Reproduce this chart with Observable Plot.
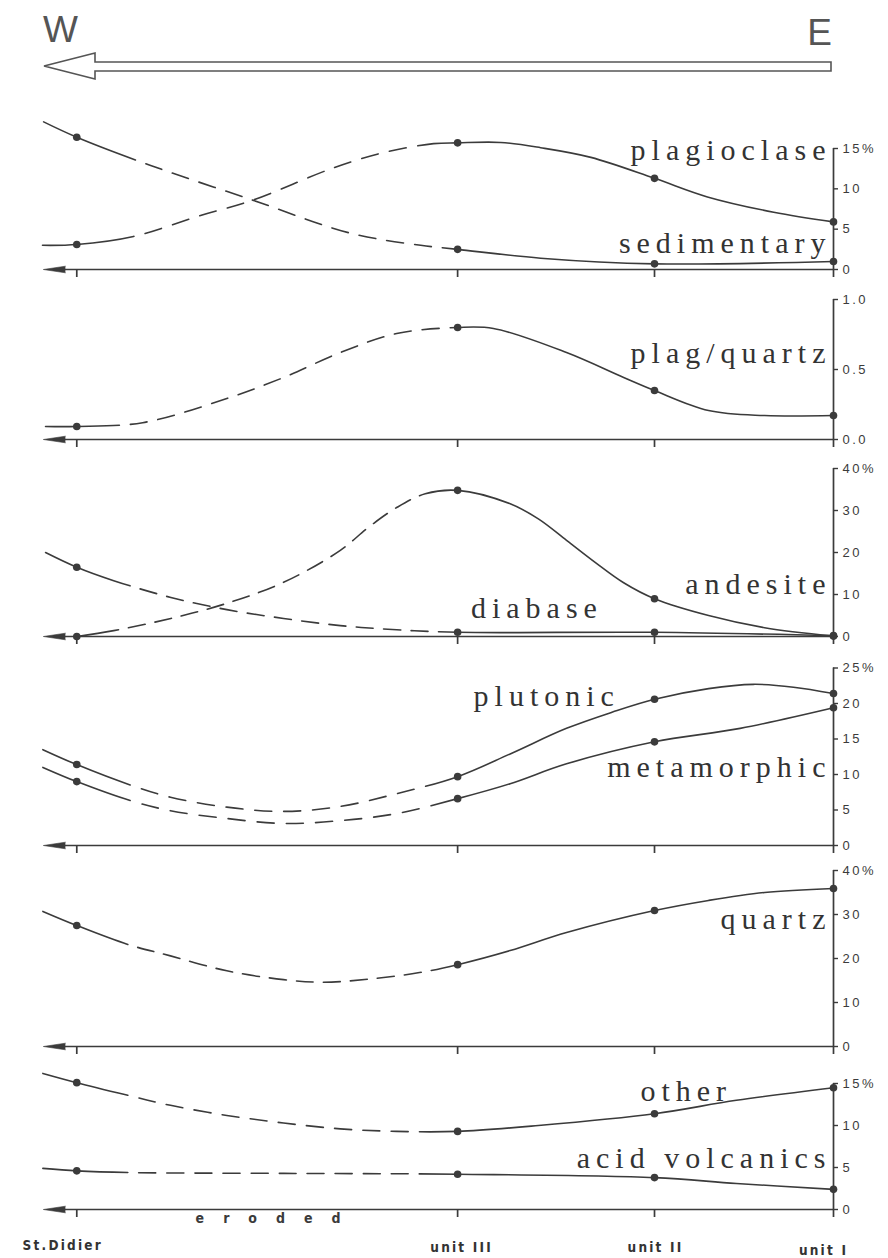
<!DOCTYPE html>
<html>
<head>
<meta charset="utf-8">
<script src="https://cdn.jsdelivr.net/npm/d3@7"></script>
<script src="https://cdn.jsdelivr.net/npm/@observablehq/plot@0.6"></script>
<style>
  html, body { margin: 0; padding: 0; background: #fff; }
  #chart { position: relative; width: 888px; height: 1258px; overflow: hidden; background: #fff; }
  #chart svg.panel { position: absolute; left: 0; }
  g[aria-description="ytick"] text { letter-spacing: 2.5px; }
  g[aria-description="serieslabel"] text { letter-spacing: 6px; }
  g[aria-description="sitelabel"] text { letter-spacing: 2.2px; font-stretch: condensed; }
  g[aria-description="eroded"] text { letter-spacing: 19px; font-stretch: condensed; }
</style>
</head>
<body>
<div id="chart"></div>
<script>
// ---------- sites along the W–E section (x = relative distance, St.Didier = 0, unit III = 100)
const sites = ["St.Didier", "unit III", "unit II", "unit I"];
const sitePos = [0, 100, 151.7, 198.7];
const xDomain = [-9, 198.7];
const arrowBase = -3;

// ---------- Panel 1 (%)
const plagioclaseAtSites = [3.1, 15.7, 11.3, 5.9];
const plagioclaseTraceX = [-9, 14.9, 32.5, 46.2, 67.4, 80.6, 93.7, 111.3, 121.8, 135, 165.6, 183];
const plagioclaseTraceY = [3.0, 4.1, 6.7, 8.6, 12.6, 14.5, 15.6, 15.75, 15.1, 13.9, 9.0, 7.1];
const sedimentaryAtSites = [16.4, 2.5, 0.7, 1.0];
const sedimentaryTraceX = [-8.7, 19.4, 46.2, 71.9, 90.3, 121.8];
const sedimentaryTraceY = [18.3, 12.9, 8.6, 4.5, 3.0, 1.4];

// ---------- Panel 2 (ratio)
const plagQuartzAtSites = [0.093, 0.80, 0.35, 0.171];
const plagQuartzTraceX = [-8.2, 17.3, 39.4, 54.3, 69.2, 84, 109.4, 128.6, 143.6, 165.9, 180.6];
const plagQuartzTraceY = [0.093, 0.12, 0.293, 0.443, 0.621, 0.757, 0.793, 0.621, 0.443, 0.207, 0.171];

// ---------- Panel 3 (%)
const andesiteAtSites = [0, 34.8, 9.0, 0.1];
const andesiteTraceX = [9.7, 24.7, 39.4, 54.3, 69.2, 76.6, 84, 91.5, 113.8, 121.2, 128.6, 136.2, 143.6, 165.9, 180.6];
const andesiteTraceY = [1.4, 4.3, 7.9, 12.9, 20.5, 26, 30.7, 34, 31.6, 28.0, 22.9, 17.6, 12.8, 5.0, 2.1];
const diabaseAtSites = [16.5, 1.0, 1.0, 0.2];
const diabaseTraceX = [-8.2, 9.7, 24.7, 39.4, 54.3, 69.2, 84];
const diabaseTraceY = [20.0, 13.3, 9.3, 6.4, 4.3, 2.6, 1.6];

// ---------- Panel 4 (%)
const plutonicAtSites = [11.4, 9.7, 20.6, 21.4];
const plutonicTraceX = [-8.9, 14.2, 24.6, 39.4, 54.3, 69.2, 84, 113.8, 128.6, 140.7, 165.9, 177.7, 188.2];
const plutonicTraceY = [13.5, 8.5, 6.8, 5.4, 4.8, 5.5, 7.3, 12.9, 16.5, 18.8, 22.1, 22.7, 22.3];
const metamorphicAtSites = [9.0, 6.6, 14.6, 19.4];
const metamorphicTraceX = [-8.9, 14.2, 24.6, 39.4, 54.3, 69.2, 84, 113.8, 128.6, 174.2];
const metamorphicTraceY = [11.0, 6.3, 4.9, 3.8, 3.1, 3.5, 4.5, 8.7, 11.5, 16.5];

// ---------- Panel 5 (%)
const quartzAtSites = [27.5, 18.6, 30.9, 35.9];
const quartzTraceX = [-8.9, 13.4, 24.6, 39.4, 54.3, 64.7, 76.6, 90, 113.8, 128.6, 165.9, 180.6];
const quartzTraceY = [30.7, 23.2, 20.6, 17.2, 15.2, 14.6, 15.3, 16.8, 21.8, 25.9, 33.2, 35.0];

// ---------- Panel 6 (%)
const otherAtSites = [15.1, 9.3, 11.4, 14.5];
const otherTraceX = [-8.9, 13.4, 24.6, 39.4, 54.3, 69.2, 84, 121.2, 173.2];
const otherTraceY = [16.2, 13.6, 12.4, 11.2, 10.3, 9.6, 9.3, 10.0, 13.0];
const acidVolcanicsAtSites = [4.6, 4.2, 3.8, 2.4];
const acidVolcanicsTraceX = [-8.9, 13.4, 54.3, 173.2];
const acidVolcanicsTraceY = [4.9, 4.4, 4.3, 3.1];

// ---------- styling / layout
const ink = "#3b3b3b";
const serif = "'Liberation Serif', 'Times New Roman', serif";
const sans = "'Liberation Sans', Arial, sans-serif";
const narrow = "'Liberation Sans Narrow', 'DejaVu Sans Condensed', 'Roboto Condensed', 'Liberation Sans', sans-serif";

const panels = [
  { top: 100, height: 185, yTop: 148, yZero: 269, yMax: 15, ticks: [0, 5, 10, 15], tickLabels: ["0", "5", "10", "15%"],
    series: [
      {key: "plagioclase", at: plagioclaseAtSites, tx: plagioclaseTraceX, ty: plagioclaseTraceY, eroded: [15, 89.5]},
      {key: "sedimentary", at: sedimentaryAtSites, tx: sedimentaryTraceX, ty: sedimentaryTraceY, eroded: [15.4, 96]}
    ],
    labels: [
      {text: "plagioclase", x: 198.7, y: 13.6, anchor: "end"},
      {text: "sedimentary", x: 198.7, y: 2.0, anchor: "end"}
    ]},
  { top: 285, height: 165, yTop: 299, yZero: 439, yMax: 1, ticks: [0, 0.5, 1], tickLabels: ["0.0", "0.5", "1.0"],
    series: [
      {key: "plagquartz", at: plagQuartzAtSites, tx: plagQuartzTraceX, ty: plagQuartzTraceY, eroded: [11.2, 98]}
    ],
    labels: [
      {text: "plag/quartz", x: 198.7, y: 0.543, anchor: "end"}
    ]},
  { top: 450, height: 205, yTop: 468, yZero: 636, yMax: 40, ticks: [0, 10, 20, 30, 40], tickLabels: ["0", "10", "20", "30", "40%"],
    series: [
      {key: "andesite", at: andesiteAtSites, tx: andesiteTraceX, ty: andesiteTraceY, eroded: [11, 90]},
      {key: "diabase", at: diabaseAtSites, tx: diabaseTraceX, ty: diabaseTraceY, eroded: [14, 95]}
    ],
    labels: [
      {text: "andesite", x: 198.7, y: 10.2, anchor: "end"},
      {text: "diabase", x: 103.5, y: 4.5, anchor: "start"}
    ]},
  { top: 655, height: 203, yTop: 667.5, yZero: 845, yMax: 25, ticks: [0, 5, 10, 15, 20, 25], tickLabels: ["0", "5", "10", "15", "20", "25%"],
    series: [
      {key: "plutonic", at: plutonicAtSites, tx: plutonicTraceX, ty: plutonicTraceY, eroded: [14, 91.6]},
      {key: "metamorphic", at: metamorphicAtSites, tx: metamorphicTraceX, ty: metamorphicTraceY, eroded: [14, 93]}
    ],
    labels: [
      {text: "plutonic", x: 104.2, y: 19.6, anchor: "start"},
      {text: "metamorphic", x: 198.7, y: 9.6, anchor: "end"}
    ]},
  { top: 858, height: 200, yTop: 870, yZero: 1046, yMax: 40, ticks: [0, 10, 20, 30, 40], tickLabels: ["0", "10", "20", "30", "40%"],
    series: [
      {key: "quartz", at: quartzAtSites, tx: quartzTraceX, ty: quartzTraceY, eroded: [13.4, 93]}
    ],
    labels: [
      {text: "quartz", x: 198.7, y: 26.8, anchor: "end"}
    ]},
  { top: 1058, height: 200, yTop: 1083, yZero: 1209, yMax: 15, ticks: [0, 5, 10, 15], tickLabels: ["0", "5", "10", "15%"],
    series: [
      {key: "other", at: otherAtSites, tx: otherTraceX, ty: otherTraceY, eroded: [13.4, 90]},
      {key: "acidvolcanics", at: acidVolcanicsAtSites, tx: acidVolcanicsTraceX, ty: acidVolcanicsTraceY, eroded: [13.4, 90]}
    ],
    labels: [
      {text: "other", x: 148, y: 12.9, anchor: "start"},
      {text: "acid volcanics", x: 198.7, y: 5.0, anchor: "end"}
    ]}
];
const siteLabelDx = [-14, 4, 1, -10];
const siteLabelDy = [40, 42, 42, 45];
const erodedLabel = "eroded";
const erodedX = 31.2;

const chart = document.getElementById("chart");

// ---------- header: W / E and the hollow arrow
chart.insertAdjacentHTML("beforeend",
  `<svg width="888" height="100" style="position:absolute;left:0;top:0">
     <text x="43" y="42" font-family="Liberation Sans, Arial, sans-serif" font-size="37" fill="#555">W</text>
     <text x="832" y="45" text-anchor="end" font-family="Liberation Sans, Arial, sans-serif" font-size="37" fill="#555">E</text>
     <polygon points="44,66 95,53 95,62 831,62 831,71 95,71 95,79" fill="#fff" stroke="#555" stroke-width="1.6"/>
   </svg>`);

function lengthAtX(path, px, total) {
  let lo = 0, hi = total;
  for (let k = 0; k < 40; k++) {
    const mid = (lo + hi) / 2;
    if (path.getPointAtLength(mid).x < px) lo = mid; else hi = mid;
  }
  return (lo + hi) / 2;
}
function applyDash(svg, key, xs, a, b) {
  const path = svg.querySelector(`g[aria-description="curve-${key}"] path`);
  if (!path) return;
  const total = path.getTotalLength();
  if (!(total > 0)) return;
  const La = lengthAtX(path, xs(a), total);
  const Lb = lengthAtX(path, xs(b), total);
  const dash = 17, gap = 11;
  const n = Math.max(1, Math.round((Lb - La - gap) / (gap + dash)));
  const g = Math.max(1, (Lb - La - n * dash) / (n + 1));
  const arr = [La];
  for (let k = 0; k < n; k++) arr.push(g, dash);
  arr.push(g, total + 20);
  if (arr.every(v => isFinite(v) && v >= 0)) path.setAttribute("stroke-dasharray", arr.map(v => v.toFixed(2)).join(" "));
}

panels.forEach((p, pi) => {
  const isLast = pi === panels.length - 1;
  const xEnd = xDomain[1];
  const marks = [];
  // horizontal axis with left-pointing arrowhead
  marks.push(Plot.ruleY([0], {x1: arrowBase, x2: xEnd, stroke: ink, strokeWidth: 1.7}));
  if (typeof Plot.spike === "function") {
    marks.push(Plot.vector([{x: arrowBase, y: 0}], {x: "x", y: "y", length: 22, rotate: -90, anchor: "start",
      shape: "spike", r: 3.3, fill: ink, stroke: ink, strokeWidth: 0.6}));
  } else {
    marks.push(Plot.arrow([{x1: arrowBase, x2: xDomain[0]}], {x1: "x1", x2: "x2", y1: 0, y2: 0,
      headLength: 22, headAngle: 16, stroke: ink, strokeWidth: 2}));
  }
  // site ticks (downward)
  marks.push(Plot.ruleX(sitePos, {x: d => d, y1: 0, y2: 0, insetBottom: -8, stroke: ink, strokeWidth: 1.7}));
  // right vertical axis
  marks.push(Plot.ruleX([xEnd], {x: d => d, y1: 0, y2: p.yMax, stroke: ink, strokeWidth: 1.7}));
  marks.push(Plot.ruleY(p.ticks, {y: d => d, x1: xEnd, x2: xEnd, insetRight: -5, stroke: ink, strokeWidth: 1.4}));
  marks.push(Plot.text(p.ticks, {x: xEnd, y: d => d, text: (d, i) => p.tickLabels[i], textAnchor: "start",
    dx: 9, fontSize: 13, fontFamily: sans, fill: ink, ariaDescription: "ytick"}));
  // curves
  p.series.forEach(s => {
    const pts = sitePos.map((x, i) => ({x, y: s.at[i]}))
      .concat(s.tx.map((x, i) => ({x, y: s.ty[i]})))
      .sort((a, b) => a.x - b.x);
    marks.push(Plot.line(pts, {x: "x", y: "y", curve: "catmull-rom", stroke: ink, strokeWidth: 1.6,
      ariaDescription: "curve-" + s.key}));
  });
  // sample points
  p.series.forEach(s => {
    marks.push(Plot.dot(sitePos.map((x, i) => ({x, y: s.at[i]})), {x: "x", y: "y", r: 3.8, fill: ink, stroke: "none"}));
  });
  // series labels
  p.labels.forEach(l => {
    marks.push(Plot.text([l], {x: "x", y: "y", text: "text", textAnchor: l.anchor, lineAnchor: "bottom",
      dx: l.anchor === "end" ? -2 : 0, fontSize: 30, fontFamily: serif, fill: "#333", ariaDescription: "serieslabel"}));
  });
  if (isLast) {
    marks.push(Plot.text([erodedLabel], {x: erodedX, y: 0, text: d => d, textAnchor: "start", lineAnchor: "bottom",
      dy: 13, fontSize: 14, fontWeight: "bold", fontFamily: narrow, fill: ink, ariaDescription: "eroded"}));
    sites.forEach((name, i) => {
      marks.push(Plot.text([name], {x: sitePos[i], y: 0, text: d => d, textAnchor: "middle", lineAnchor: "bottom",
        dx: siteLabelDx[i], dy: siteLabelDy[i], fontSize: 13.5, fontWeight: "bold", fontFamily: narrow, fill: "#333",
        ariaDescription: "sitelabel"}));
    });
  }
  const svg = Plot.plot({
    width: 888, height: p.height,
    marginLeft: 42, marginRight: 55,
    marginTop: p.yTop - p.top, marginBottom: p.top + p.height - p.yZero,
    x: {domain: xDomain, axis: null},
    y: {domain: [0, p.yMax], axis: null},
    style: {overflow: "visible", background: "transparent"},
    marks
  });
  svg.classList.add("panel");
  svg.style.position = "absolute";
  svg.style.left = "0px";
  svg.style.top = p.top + "px";
  chart.appendChild(svg);
  let xs;
  try { const sc = svg.scale("x"); xs = v => sc.apply(v); if (!isFinite(xs(0))) throw 0; }
  catch (e) { xs = d3.scaleLinear(xDomain, [42, 833]); }
  p.series.forEach(s => applyDash(svg, s.key, xs, s.eroded[0], s.eroded[1]));
});
</script>
</body>
</html>
